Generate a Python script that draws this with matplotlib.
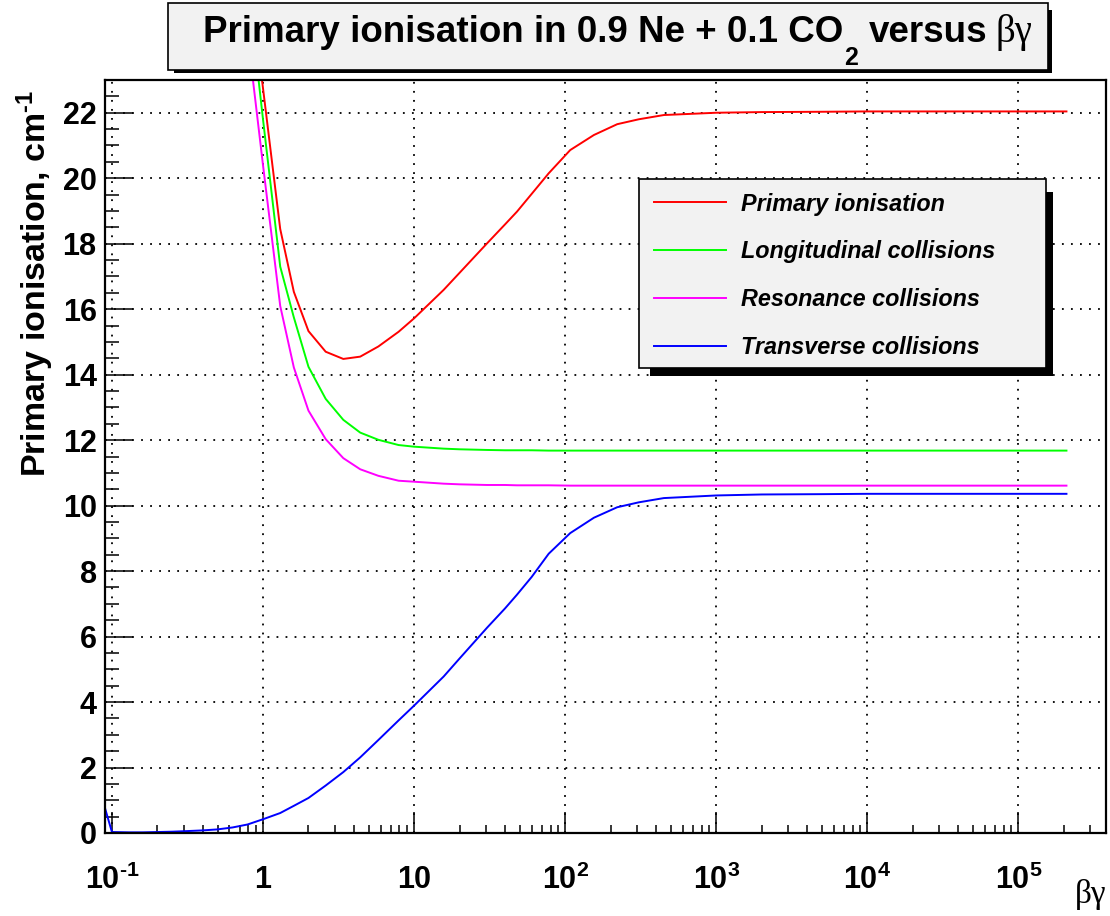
import matplotlib
matplotlib.use('Agg')
import matplotlib.pyplot as plt
from matplotlib.patches import Rectangle
from matplotlib.lines import Line2D
from matplotlib.ticker import FixedLocator, FixedFormatter, LogLocator, MultipleLocator, NullFormatter

W, H = 1110, 916

# beta*gamma sample points and ionisation curves (cm^-1)
beta_gamma = [0.09, 0.1, 0.13, 0.16, 0.2, 0.25, 0.32, 0.4, 0.5, 0.63, 0.79, 1.0, 1.3, 1.6,
              2.0, 2.6, 3.4, 4.4, 5.8, 7.9, 10, 15.7, 20, 30.4, 40, 48, 60, 77.8, 108, 155,
              221, 307, 450, 1000, 2000, 5000, 1e4, 1e5, 2.08e5]
primary = [420, 340, 210, 150, 105, 76, 56, 43, 35, 30, 26.6, 22.75, 18.45, 16.53,
           15.33, 14.70, 14.48, 14.55, 14.86, 15.31, 15.72, 16.59, 17.11, 18.01, 18.59, 18.98,
           19.52, 20.15, 20.86, 21.32, 21.65, 21.80, 21.93, 22.00, 22.02, 22.03, 22.04, 22.04, 22.04]
longitudinal = [400, 320, 200, 140, 100, 72, 53, 41, 33, 29, 26.0, 21.8, 17.3, 15.75,
                14.24, 13.26, 12.62, 12.23, 12.01, 11.85, 11.80, 11.74, 11.72, 11.70, 11.69, 11.69,
                11.69, 11.68, 11.68, 11.68, 11.68, 11.68, 11.68, 11.68, 11.68, 11.68, 11.68, 11.68, 11.68]
resonance = [380, 300, 190, 130, 92, 66, 49, 38, 31, 27, 24.4, 20.4, 16.1, 14.22,
             12.90, 12.03, 11.45, 11.11, 10.91, 10.76, 10.73, 10.67, 10.65, 10.63, 10.63, 10.62,
             10.62, 10.62, 10.61, 10.61, 10.61, 10.61, 10.61, 10.61, 10.61, 10.61, 10.61, 10.61, 10.61]
transverse = [0.76, 0.03, 0.02, 0.02, 0.03, 0.04, 0.06, 0.08, 0.11, 0.17, 0.26, 0.42, 0.61, 0.83,
              1.07, 1.45, 1.86, 2.31, 2.84, 3.44, 3.89, 4.78, 5.33, 6.27, 6.86, 7.28,
              7.82, 8.53, 9.16, 9.63, 9.95, 10.10, 10.23, 10.31, 10.34, 10.35, 10.36, 10.36, 10.36]

series = [primary, longitudinal, resonance, transverse]
labels = ['Primary ionisation', 'Longitudinal collisions', 'Resonance collisions', 'Transverse collisions']
colors = ['#ff0000', '#00ff00', '#ff00ff', '#0000ff']

x_ticks = [0.1, 1, 10, 100, 1e3, 1e4, 1e5]
x_tick_labels = [r'$\mathbf{10^{\text{-}1}}$', r'$\mathbf{1}$', r'$\mathbf{10}$', r'$\mathbf{10^{2}}$',
                 r'$\mathbf{10^{3}}$', r'$\mathbf{10^{4}}$', r'$\mathbf{10^{5}}$']

plt.rcParams['font.family'] = ['Liberation Sans', 'DejaVu Sans']
plt.rcParams['font.weight'] = 'bold'
plt.rcParams['mathtext.fontset'] = 'custom'
plt.rcParams['mathtext.rm'] = 'Liberation Sans:bold'
plt.rcParams['mathtext.bf'] = 'Liberation Sans:bold'
plt.rcParams['mathtext.it'] = 'Liberation Sans:bold:italic'


def fx(px):
    return px / W


def fy(py):
    return 1 - py / H


def box(x0, y0, x1, y1, **kw):
    fig.add_artist(Rectangle((fx(x0), fy(y1)), (x1 - x0) / W, (y1 - y0) / H,
                             transform=fig.transFigure, **kw))


fig = plt.figure(figsize=(W / 100, H / 100), dpi=100)
ax = fig.add_axes([fx(105), fy(833), (1106 - 105) / W, (833 - 80) / H])

for s, c in zip(series, colors):
    ax.plot(beta_gamma, s, color=c, lw=1.4)

ax.set_xscale('log')
ax.set_xlim(0.09, 3.8e5)
ax.set_ylim(0, 23)

ax.xaxis.set_major_locator(FixedLocator(x_ticks))
ax.xaxis.set_major_formatter(FixedFormatter(x_tick_labels))
ax.xaxis.set_minor_locator(LogLocator(base=10, subs=range(2, 10), numticks=30))
ax.xaxis.set_minor_formatter(NullFormatter())
ax.yaxis.set_major_locator(MultipleLocator(2))
ax.yaxis.set_minor_locator(MultipleLocator(0.5))

ax.tick_params(which='both', direction='in', top=False, right=False, width=1.1, labelsize=22)
ax.tick_params(axis='x', which='major', length=15, pad=23)
ax.tick_params(axis='x', which='minor', length=6)
ax.tick_params(axis='y', which='major', length=20, pad=6)
ax.tick_params(axis='y', which='minor', length=10)

ax.grid(True, which='major', color='black', linestyle=(0, (1, 4)), linewidth=1.3)
for sp in ax.spines.values():
    sp.set_linewidth(1.6)

fig.text(fx(35), fy(283), r'Primary ionisation, cm$^{\mathbf{\text{-}1}}$', rotation=90,
         ha='center', va='center', fontsize=24.5)
fig.text(fx(1106), fy(895), 'βγ', ha='right', va='center', fontsize=24,
         family='Liberation Serif', weight='normal')

# title box with shadow
box(174, 10, 1052, 73, facecolor='black', edgecolor='none')
box(168, 3, 1048, 70, facecolor='#f2f2f2', edgecolor='black', lw=1.2)
renderer = fig.canvas.get_renderer()
t1 = fig.text(fx(203), fy(42), 'Primary ionisation in 0.9 Ne + 0.1 CO', fontsize=26.5,
              ha='left', va='baseline')
x_end = t1.get_window_extent(renderer).x1
t2 = fig.text(x_end / W + 1 / W, fy(65), '2', fontsize=18, ha='left', va='baseline')
x_end = t2.get_window_extent(renderer).x1
t3 = fig.text(x_end / W + 11 / W, fy(42), 'versus', fontsize=26.5, ha='left', va='baseline')
x_end = t3.get_window_extent(renderer).x1
fig.text(x_end / W + 8 / W, fy(42), 'βγ', fontsize=28, ha='left', va='baseline',
         family='Liberation Serif', weight='normal')

# legend box with shadow
box(650, 192, 1053, 376, facecolor='black', edgecolor='none')
box(639, 179, 1046, 368, facecolor='#f2f2f2', edgecolor='black', lw=1.2)
rows = [202, 250, 298, 346]
for row, lab, c in zip(rows, labels, colors):
    fig.add_artist(Line2D([fx(654), fx(726)], [fy(row), fy(row)], color=c, lw=1.4,
                          transform=fig.transFigure))
    fig.text(fx(741), fy(row + 8.5), lab, fontsize=16.8, style='italic', ha='left', va='baseline')

fig.savefig('out.png', dpi=100)
